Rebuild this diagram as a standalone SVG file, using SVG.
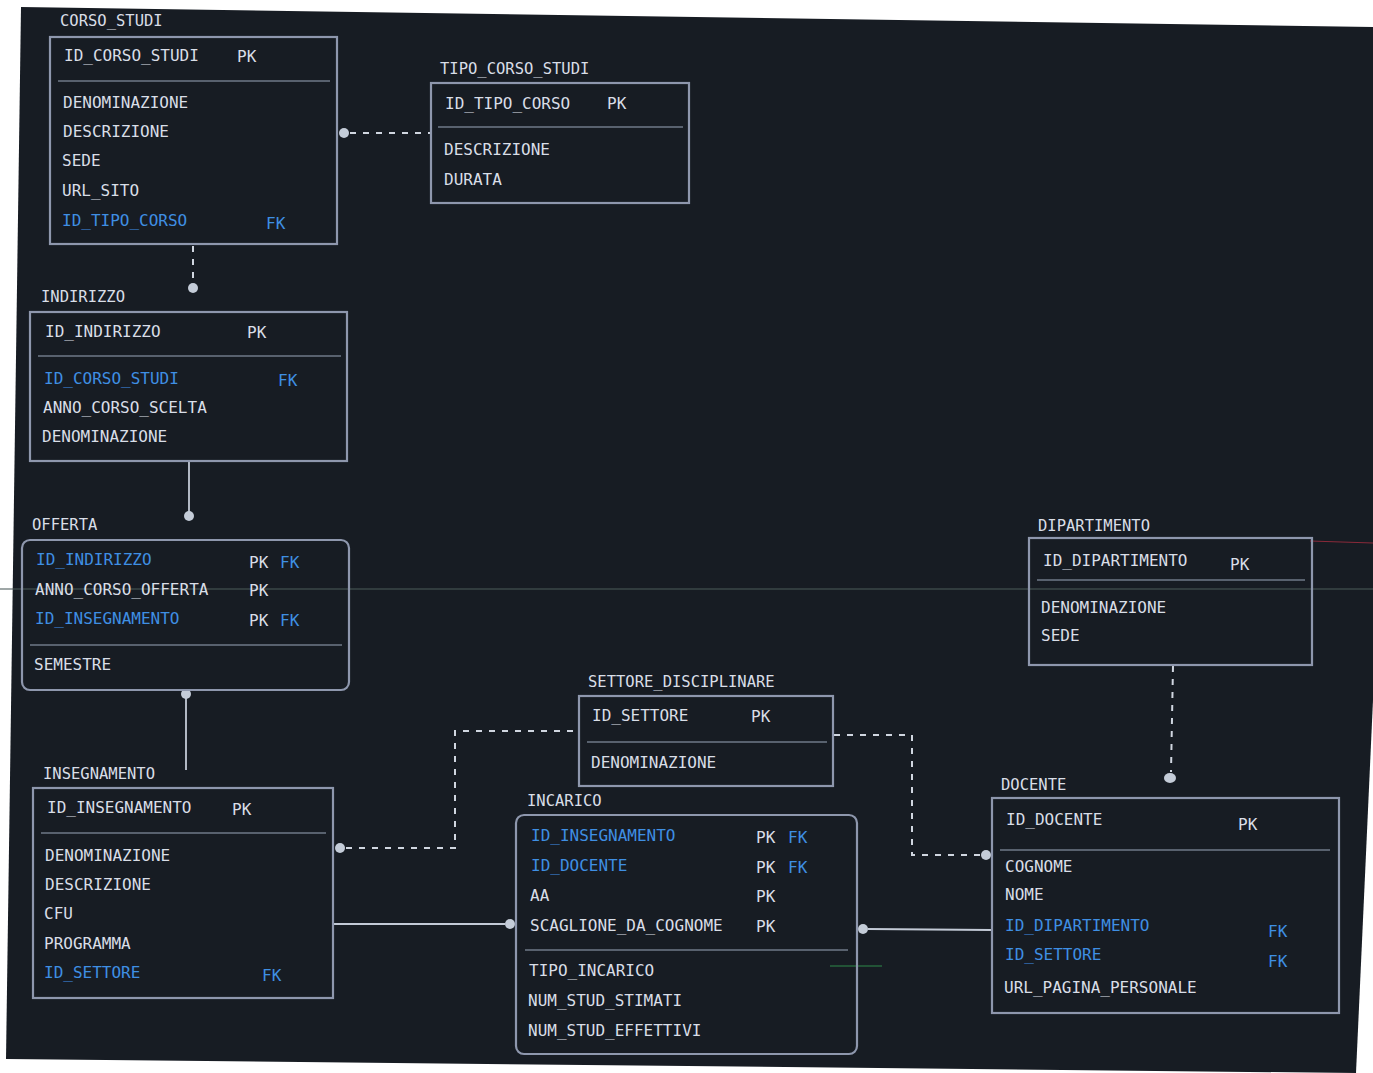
<svg xmlns="http://www.w3.org/2000/svg" width="1373" height="1073" viewBox="0 0 1373 1073">
<style>
text{font-family:"DejaVu Sans Mono","Liberation Mono",monospace;font-size:16px;fill:#d9dee7}
.t{font-size:15.5px}
.b{fill:#3f8fe3}
.box{fill:none;stroke:#8e97ad;stroke-width:2.2}
.sep{stroke:#6f7889;stroke-width:1.6}
.solid{stroke:#c3cad6;stroke-width:1.8;fill:none}
.dash{stroke:#d0d6e0;stroke-width:2;fill:none;stroke-dasharray:6 7}
.dot{fill:#c4ccd8}
</style>
<rect width="1373" height="1073" fill="#ffffff"/>
<polygon points="21,7 1373,27 1373,700 1356,1073 6,1059" fill="#171c23"/>
<g id="artifacts">
<line x1="0" y1="589" x2="1373" y2="589" stroke="#4a5a58" stroke-width="1.5" opacity="0.7"/>
<line x1="1310" y1="541" x2="1373" y2="543" stroke="#8a2a3a" stroke-width="1"/>
<line x1="830" y1="966" x2="882" y2="966" stroke="#2f8a4a" stroke-width="1.2"/>
</g>
<g id="connectors">
<line class="dash" x1="350" y1="133" x2="431" y2="133"/>
<circle class="dot" cx="344" cy="133" r="5"/>
<line class="dash" x1="193" y1="246" x2="193" y2="283"/>
<circle class="dot" cx="193" cy="288" r="5"/>
<line class="solid" x1="189" y1="462" x2="189" y2="512"/>
<circle class="dot" cx="189" cy="516" r="5"/>
<line class="solid" x1="186" y1="698" x2="186" y2="770"/>
<circle class="dot" cx="186" cy="694" r="5"/>
<polyline class="dash" points="346,848 455,848 455,731 580,731"/>
<circle class="dot" cx="340" cy="848" r="5"/>
<line class="solid" x1="333" y1="924" x2="505" y2="924"/>
<circle class="dot" cx="510" cy="924" r="5"/>
<polyline class="dash" points="834,735 912,735 912,855 980,855"/>
<circle class="dot" cx="986" cy="855" r="5"/>
<line class="solid" x1="868" y1="929" x2="991" y2="930"/>
<circle class="dot" cx="863" cy="929" r="5"/>
<line class="dash" x1="1173" y1="666" x2="1171" y2="772" stroke-dasharray="4 6"/>
<ellipse class="dot" cx="1170" cy="778" rx="6" ry="5"/>
</g>
<g id="corso_studi">
<text class="t" x="60" y="26">CORSO_STUDI</text>
<rect class="box" x="50" y="37" width="287" height="207"/>
<line class="sep" x1="58" y1="81" x2="330" y2="81"/>
<text x="64" y="61">ID_CORSO_STUDI</text><text x="237" y="62">PK</text>
<text x="63" y="108">DENOMINAZIONE</text>
<text x="63" y="137">DESCRIZIONE</text>
<text x="62" y="166">SEDE</text>
<text x="62" y="196">URL_SITO</text>
<text class="b" x="62" y="226">ID_TIPO_CORSO</text><text class="b" x="266" y="229">FK</text>
</g>
<g id="tipo_corso_studi">
<text class="t" x="440" y="74">TIPO_CORSO_STUDI</text>
<rect class="box" x="431" y="83" width="258" height="120"/>
<line class="sep" x1="438" y1="127" x2="683" y2="127"/>
<text x="445" y="109">ID_TIPO_CORSO</text><text x="607" y="109">PK</text>
<text x="444" y="155">DESCRIZIONE</text>
<text x="444" y="185">DURATA</text>
</g>
<g id="indirizzo">
<text class="t" x="41" y="302">INDIRIZZO</text>
<rect class="box" x="30" y="312" width="317" height="149"/>
<line class="sep" x1="38" y1="356" x2="341" y2="356"/>
<text x="45" y="337">ID_INDIRIZZO</text><text x="247" y="338">PK</text>
<text class="b" x="44" y="384">ID_CORSO_STUDI</text><text class="b" x="278" y="386">FK</text>
<text x="43" y="413">ANNO_CORSO_SCELTA</text>
<text x="42" y="442">DENOMINAZIONE</text>
</g>
<g id="offerta">
<text class="t" x="32" y="530">OFFERTA</text>
<rect class="box" x="22" y="540" width="327" height="150" rx="8"/>
<line class="sep" x1="30" y1="645" x2="342" y2="645"/>
<text class="b" x="36" y="565">ID_INDIRIZZO</text><text x="249" y="568">PK</text><text class="b" x="280" y="568">FK</text>
<text x="35" y="595">ANNO_CORSO_OFFERTA</text><text x="249" y="596">PK</text>
<text class="b" x="35" y="624">ID_INSEGNAMENTO</text><text x="249" y="626">PK</text><text class="b" x="280" y="626">FK</text>
<text x="34" y="670">SEMESTRE</text>
</g>
<g id="insegnamento">
<text class="t" x="43" y="779">INSEGNAMENTO</text>
<rect class="box" x="33" y="788" width="300" height="210"/>
<line class="sep" x1="41" y1="833" x2="326" y2="833"/>
<text x="47" y="813">ID_INSEGNAMENTO</text><text x="232" y="815">PK</text>
<text x="45" y="861">DENOMINAZIONE</text>
<text x="45" y="890">DESCRIZIONE</text>
<text x="44" y="919">CFU</text>
<text x="44" y="949">PROGRAMMA</text>
<text class="b" x="44" y="978">ID_SETTORE</text><text class="b" x="262" y="981">FK</text>
</g>
<g id="settore_disciplinare">
<text class="t" x="588" y="687">SETTORE_DISCIPLINARE</text>
<rect class="box" x="579" y="696" width="254" height="90"/>
<line class="sep" x1="587" y1="742" x2="827" y2="742"/>
<text x="592" y="721">ID_SETTORE</text><text x="751" y="722">PK</text>
<text x="591" y="768">DENOMINAZIONE</text>
</g>
<g id="incarico">
<text class="t" x="527" y="806">INCARICO</text>
<rect class="box" x="516" y="815" width="341" height="239" rx="8"/>
<line class="sep" x1="525" y1="950" x2="848" y2="950"/>
<text class="b" x="531" y="841">ID_INSEGNAMENTO</text><text x="756" y="843">PK</text><text class="b" x="788" y="843">FK</text>
<text class="b" x="531" y="871">ID_DOCENTE</text><text x="756" y="873">PK</text><text class="b" x="788" y="873">FK</text>
<text x="530" y="901">AA</text><text x="756" y="902">PK</text>
<text x="530" y="931">SCAGLIONE_DA_COGNOME</text><text x="756" y="932">PK</text>
<text x="529" y="976">TIPO_INCARICO</text>
<text x="528" y="1006">NUM_STUD_STIMATI</text>
<text x="528" y="1036">NUM_STUD_EFFETTIVI</text>
</g>
<g id="dipartimento">
<text class="t" x="1038" y="531">DIPARTIMENTO</text>
<rect class="box" x="1029" y="538" width="283" height="127"/>
<line class="sep" x1="1037" y1="580" x2="1305" y2="580"/>
<text x="1043" y="566">ID_DIPARTIMENTO</text><text x="1230" y="570">PK</text>
<text x="1041" y="613">DENOMINAZIONE</text>
<text x="1041" y="641">SEDE</text>
</g>
<g id="docente">
<text class="t" x="1001" y="790">DOCENTE</text>
<rect class="box" x="992" y="798" width="347" height="215"/>
<line class="sep" x1="1000" y1="850" x2="1330" y2="850"/>
<text x="1006" y="825">ID_DOCENTE</text><text x="1238" y="830">PK</text>
<text x="1005" y="872">COGNOME</text>
<text x="1005" y="900">NOME</text>
<text class="b" x="1005" y="931">ID_DIPARTIMENTO</text><text class="b" x="1268" y="937">FK</text>
<text class="b" x="1005" y="960">ID_SETTORE</text><text class="b" x="1268" y="967">FK</text>
<text x="1004" y="993">URL_PAGINA_PERSONALE</text>
</g>
</svg>
